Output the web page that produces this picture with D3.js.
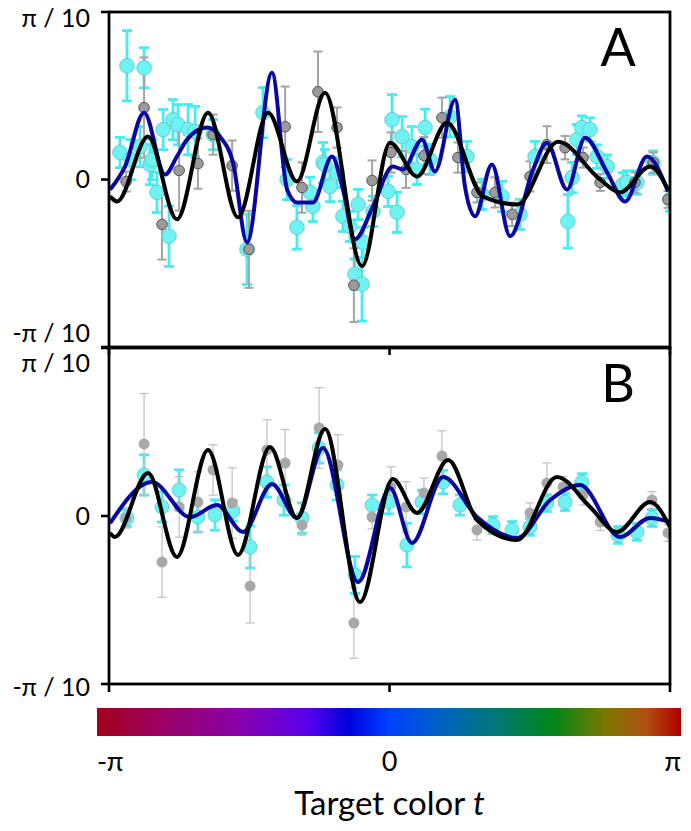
<!DOCTYPE html>
<html><head><meta charset="utf-8">
<script src="https://cdn.jsdelivr.net/npm/d3@7"></script>
<style>body{margin:0;background:#fff}svg{display:block}text{font-family:Lato,"Open Sans",sans-serif}</style>
</head><body>
<svg id="c" width="691" height="831"></svg>
<script>
// Units: x (target color t) in multiples of π; y (bias) in multiples of π/10
const xTickValues = [-1, 0, 1];
const xTickLabels = ["-π", "0", "π"];
const yTickValues = [-1, 0, 1];
const yTickLabels = ["-π / 10", "0", "π / 10"];
const panelNames = ["A", "B"];
const axisTitle = "Target color ";
const axisTitleItalic = "t";

// Panel A: cyan points [t, bias, err]
const cyanA = [
[-0.961,0.161,0.09],[-0.936,0.679,0.21],[-0.922,0.119,0.12],[-0.889,0.196,0.12],[-0.875,0.667,0.12],
[-0.854,0.089,0.12],[-0.847,0.119,0.12],[-0.829,-0.077,0.12],[-0.807,0.298,0.12],[-0.786,-0.339,0.18],
[-0.772,0.357,0.12],[-0.754,0.327,0.12],[-0.718,0.298,0.15],[-0.693,0.286,0.15],[-0.629,0.268,0.09],
[-0.508,-0.417,0.21],[-0.451,0.399,0.15],[-0.365,0.0,0.12],[-0.330,-0.286,0.13],[-0.283,-0.077,0.09],
[-0.273,-0.161,0.09],[-0.237,0.101,0.12],[-0.230,0.089,0.09],[-0.212,-0.042,0.09],[-0.187,0.042,0.09],
[-0.166,-0.220,0.09],[-0.141,-0.280,0.09],[-0.112,-0.149,0.09],[-0.094,-0.375,0.09],[-0.123,-0.565,0.09],
[-0.098,-0.625,0.22],[-0.059,-0.190,0.09],[-0.005,-0.071,0.09],[0.009,0.357,0.15],[0.027,-0.196,0.12],
[0.045,0.256,0.12],[0.080,0.196,0.12],[0.098,0.060,0.09],[0.127,0.310,0.11],[0.144,0.119,0.09],
[0.216,0.375,0.12],[0.276,0.137,0.09],[0.330,-0.089,0.09],[0.401,-0.101,0.09],[0.465,-0.208,0.09],
[0.519,0.137,0.09],[0.636,-0.250,0.16],[0.651,0.012,0.09],[0.668,0.238,0.09],[0.686,0.310,0.07],
[0.715,0.298,0.07],[0.740,0.137,0.07],[0.776,0.077,0.07],[0.832,-0.030,0.07],[0.847,-0.018,0.07],
[0.882,-0.018,0.07],[0.940,0.101,0.07],[1.0,-0.119,0.07]
];
// Panel A: gray points [t, bias, err]
const grayA = [
[-0.939,-0.012,0.06],[-0.875,0.429,0.30],[-0.811,-0.268,0.21],[-0.750,0.054,0.24],[-0.683,0.095,0.15],
[-0.629,0.268,0.12],[-0.561,0.083,0.15],[-0.501,-0.417,0.23],[-0.372,0.315,0.24],[-0.312,-0.048,0.15],
[-0.255,0.524,0.24],[-0.187,0.310,0.12],[-0.127,-0.631,0.22],[-0.062,-0.006,0.12],[0.005,0.161,0.12],
[0.059,0.060,0.11],[0.123,0.143,0.11],[0.187,0.369,0.12],[0.244,0.131,0.09],[0.312,-0.077,0.06],
[0.376,-0.077,0.09],[0.437,-0.208,0.07],[0.501,0.018,0.09],[0.561,0.208,0.11],[0.626,0.190,0.07],
[0.690,0.131,0.06],[0.751,-0.018,0.05],[0.875,-0.018,0.06],[0.940,0.101,0.06],[0.993,-0.119,0.05]
];
const blueA = [
[-0.996,-0.060],[-0.943,0.077],[-0.875,0.399],[-0.800,0.030],[-0.758,0.137],[-0.722,0.238],[-0.651,0.310],
[-0.604,0.256],[-0.558,0.101],[-0.508,-0.375],[-0.419,0.637],[-0.365,-0.060],[-0.330,-0.137],[-0.273,-0.137],
[-0.205,0.137],[-0.166,-0.060],[-0.123,-0.357],[-0.059,-0.161],[0.012,0.077],[0.048,0.060],[0.116,0.238],
[0.162,0.048],[0.234,0.476],[0.269,-0.042],[0.305,-0.220],[0.365,0.089],[0.430,-0.339],[0.512,0.060],
[0.561,0.220],[0.633,-0.060],[0.697,0.250],[0.776,0.042],[0.840,-0.131],[0.918,0.137],[0.993,-0.071]
];
const blackA = [
[-0.996,-0.101],[-0.971,-0.131],[-0.861,0.256],[-0.758,-0.238],[-0.647,0.399],[-0.540,-0.226],[-0.433,0.399],
[-0.330,-0.012],[-0.230,0.518],[-0.098,-0.518],[0.002,0.220],[0.098,0.018],[0.205,0.339],[0.333,-0.101],
[0.455,-0.149],[0.601,0.226],[0.751,0.0],[0.822,-0.077],[0.929,0.077],[0.993,-0.060]
];
// Panel B
const cyanB = [
[-0.936,-0.012,0.05],[-0.875,0.244,0.12],[-0.811,0.054,0.09],[-0.750,0.155,0.12],[-0.683,-0.006,0.09],
[-0.622,0.006,0.09],[-0.558,0.030,0.06],[-0.497,-0.185,0.125],[-0.437,0.202,0.09],[-0.376,0.095,0.09],
[-0.312,-0.012,0.09],[-0.251,0.405,0.09],[-0.187,0.185,0.09],[-0.123,-0.351,0.11],[-0.062,0.065,0.06],
[-0.002,0.083,0.07],[0.062,-0.173,0.13],[0.116,0.083,0.07],[0.191,0.202,0.07],[0.251,0.065,0.06],
[0.369,-0.054,0.05],[0.437,-0.083,0.05],[0.501,-0.065,0.05],[0.561,0.077,0.05],[0.626,0.083,0.05],
[0.686,0.202,0.05],[0.815,-0.113,0.05],[0.882,-0.095,0.05],[0.936,-0.012,0.05]
];
const grayB = [
[-0.939,-0.012,0.06],[-0.875,0.429,0.30],[-0.811,-0.274,0.21],[-0.750,0.054,0.18],[-0.683,0.083,0.18],
[-0.629,0.274,0.15],[-0.561,0.077,0.21],[-0.497,-0.417,0.22],[-0.437,0.393,0.18],[-0.372,0.315,0.20],
[-0.312,-0.054,0.06],[-0.251,0.524,0.24],[-0.184,0.304,0.18],[-0.127,-0.637,0.21],[-0.062,-0.006,0.07],
[0.005,0.173,0.12],[0.059,0.054,0.15],[0.123,0.137,0.09],[0.187,0.357,0.15],[0.312,-0.083,0.06],
[0.501,0.018,0.06],[0.561,0.196,0.12],[0.619,0.173,0.06],[0.690,0.125,0.06],[0.751,-0.036,0.05],
[0.936,0.095,0.05],[0.993,-0.101,0.05]
];
const blueB = [
[-0.996,-0.042],[-0.847,0.202],[-0.711,-0.006],[-0.615,0.065],[-0.522,-0.095],[-0.419,0.190],[-0.330,-0.012],
[-0.237,0.405],[-0.112,-0.393],[0.002,0.167],[0.080,-0.161],[0.191,0.232],[0.312,-0.006],[0.455,-0.131],
[0.573,0.095],[0.679,0.185],[0.822,-0.125],[0.929,-0.012],[1.0,-0.036]
];
const blackB = [
[-0.996,-0.101],[-0.979,-0.125],[-0.861,0.256],[-0.758,-0.244],[-0.647,0.393],[-0.540,-0.232],[-0.426,0.411],
[-0.330,-0.012],[-0.230,0.518],[-0.105,-0.512],[0.012,0.220],[0.098,0.018],[0.209,0.333],[0.312,-0.024],
[0.455,-0.143],[0.597,0.232],[0.715,0.054],[0.811,-0.095],[0.929,0.083],[1.0,-0.065]
];
// Colour wheel of target colours along t
const colorStops = [
[0.00,"#a3001c"],[0.12,"#9a0068"],[0.24,"#8a00a8"],[0.36,"#5a00ea"],[0.43,"#0000e0"],[0.50,"#0040ff"],
[0.58,"#0060c8"],[0.68,"#007878"],[0.78,"#00861a"],[0.87,"#7a7800"],[0.94,"#b05010"],[1.00,"#b00000"]
];

const svg = d3.select("#c");
const x = d3.scaleLinear().domain([-1, 1]).range([109, 670]);
const panels = [
  {name: panelNames[0], y: d3.scaleLinear().domain([-1, 1]).range([347, 12]), cyan: cyanA, gray: grayA, blue: blueA, black: blackA,
   cyanR: 7.3, grayStyle: {fill: "#9a9a9a", stroke: "#555", sw: 1, r: 5.3, bar: "#a4a4a4", bw: 2}, labelDy: [-14, 0, 6]},
  {name: panelNames[1], y: d3.scaleLinear().domain([-1, 1]).range([684, 348]), cyan: cyanB, gray: grayB, blue: blueB, black: blackB,
   cyanR: 7, grayStyle: {fill: "#a8a8a8", stroke: "none", sw: 0, r: 5.5, bar: "#c0c0c0", bw: 1.2}, labelDy: [3, 0, 15]}
];

const defs = svg.append("defs");
panels.forEach((p, i) => {
  const r = p.y.range();
  defs.append("clipPath").attr("id", "clip" + i).append("rect")
    .attr("x", x(-1)).attr("y", r[1]).attr("width", x(1) - x(-1)).attr("height", r[0] - r[1]);
});

panels.forEach((p, i) => {
  const g = svg.append("g");
  const plot = g.append("g").attr("clip-path", `url(#clip${i})`);
  const errBars = (data, color, w, cap) => {
    const eg = plot.append("g").attr("stroke", color).attr("stroke-width", w).attr("fill", "none");
    data.forEach(d => {
      const cx = x(d[0]), y1 = p.y(d[1] - d[2]), y2 = p.y(d[1] + d[2]);
      eg.append("line").attr("x1", cx).attr("x2", cx).attr("y1", y1).attr("y2", y2);
      eg.append("line").attr("x1", cx - cap).attr("x2", cx + cap).attr("y1", y1).attr("y2", y1);
      eg.append("line").attr("x1", cx - cap).attr("x2", cx + cap).attr("y1", y2).attr("y2", y2);
    });
  };
  errBars(p.cyan, "#45ecf2", 2.8, 5);
  errBars(p.gray, p.grayStyle.bar, p.grayStyle.bw, 4.5);
  plot.append("g").selectAll("circle").data(p.cyan).join("circle")
    .attr("cx", d => x(d[0])).attr("cy", d => p.y(d[1])).attr("r", p.cyanR)
    .attr("fill", "#6ef2f2").attr("stroke", "#5cc4c4").attr("stroke-width", 0.8);
  plot.append("g").selectAll("circle").data(p.gray).join("circle")
    .attr("cx", d => x(d[0])).attr("cy", d => p.y(d[1])).attr("r", p.grayStyle.r)
    .attr("fill", p.grayStyle.fill).attr("stroke", p.grayStyle.stroke).attr("stroke-width", p.grayStyle.sw);
  const line = d3.line().x(d => x(d[0])).y(d => p.y(d[1])).curve(d3.curveMonotoneX);
  plot.append("path").datum(p.blue).attr("d", line).attr("fill", "none").attr("stroke", "#0808a0").attr("stroke-width", 4);
  plot.append("path").datum(p.black).attr("d", line).attr("fill", "none").attr("stroke", "#000").attr("stroke-width", 4);

  // frame
  const r = p.y.range();
  g.append("rect").attr("x", x(-1)).attr("y", r[1]).attr("width", x(1) - x(-1)).attr("height", r[0] - r[1])
    .attr("fill", "none").attr("stroke", "#000").attr("stroke-width", 2.8);
  // y ticks
  yTickValues.forEach((v, k) => {
    g.append("line").attr("x1", x(-1) - 8).attr("x2", x(-1)).attr("y1", p.y(v)).attr("y2", p.y(v))
      .attr("stroke", "#000").attr("stroke-width", 2.6);
    g.append("text").attr("x", 90).attr("y", p.y(v) + p.labelDy[k]).attr("dy", "0.35em")
      .attr("text-anchor", "end").attr("font-size", 25).text(yTickLabels[k]);
  });
  // x ticks (pointing down)
  xTickValues.forEach(v => {
    g.append("line").attr("x1", x(v)).attr("x2", x(v)).attr("y1", r[0]).attr("y2", r[0] + 8)
      .attr("stroke", "#000").attr("stroke-width", 2.6);
  });
  g.append("text").attr("x", 618).attr("y", r[1] + 54).attr("text-anchor", "middle")
    .attr("font-size", 52).text(p.name);
});

// colour bar
const cb = d3.scaleLinear().domain([-1, 1]).range([97, 681]);
const grad = defs.append("linearGradient").attr("id", "cgrad").attr("x1", "0%").attr("x2", "100%");
colorStops.forEach(s => grad.append("stop").attr("offset", s[0]).attr("stop-color", s[1]));
svg.append("rect").attr("x", cb(-1)).attr("y", 708).attr("width", cb(1) - cb(-1)).attr("height", 28).attr("fill", "url(#cgrad)");
const anchors = ["start", "middle", "end"];
xTickValues.forEach((v, k) => {
  svg.append("text").attr("x", k === 1 ? x(v) : cb(v)).attr("y", 771).attr("text-anchor", anchors[k])
    .attr("font-size", 27).text(xTickLabels[k]);
});
const title = svg.append("text").attr("x", x(0)).attr("y", 815).attr("text-anchor", "middle").attr("font-size", 33);
title.append("tspan").text(axisTitle);
title.append("tspan").attr("font-style", "italic").text(axisTitleItalic);
</script>
</body></html>
